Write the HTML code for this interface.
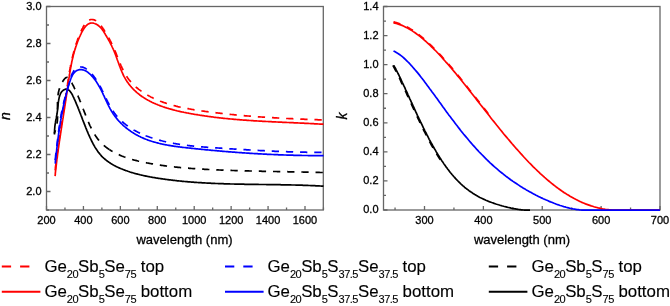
<!DOCTYPE html>
<html><head><meta charset="utf-8"><style>
html,body{margin:0;padding:0;background:#fff;width:670px;height:306px;overflow:hidden}
svg{position:absolute;left:0;top:0;will-change:transform}
text{font-family:"Liberation Sans",sans-serif;fill:#000;stroke:#000;stroke-width:0.3px}
.lg{stroke-width:0.12px}
.tk{font-size:11px}
.ti{font-size:13px}
.it{font-style:italic}
.lg{font-size:16px}
.sb{font-size:10.5px;letter-spacing:-0.5px}
</style></head><body>
<svg width="670" height="306" viewBox="0 0 670 306">
<rect x="46.5" y="6.5" width="276.8" height="203.5" fill="none" stroke="#666" stroke-width="1.3"/>
<rect x="383.5" y="6.5" width="276.5" height="203.5" fill="none" stroke="#666" stroke-width="1.3"/>
<path d="M46.50 210V206 M64.96 210V207.5 M83.43 210V206 M101.89 210V207.5 M120.36 210V206 M138.82 210V207.5 M157.29 210V206 M175.75 210V207.5 M194.21 210V206 M212.68 210V207.5 M231.14 210V206 M249.61 210V207.5 M268.07 210V206 M286.54 210V207.5 M305.00 210V206 M323.46 210V207.5 M46.5 210.00H49.0 M46.5 191.50H50.5 M46.5 173.00H49.0 M46.5 154.50H50.5 M46.5 136.00H49.0 M46.5 117.50H50.5 M46.5 99.00H49.0 M46.5 80.50H50.5 M46.5 62.00H49.0 M46.5 43.50H50.5 M46.5 25.00H49.0 M46.5 6.50H50.5 M395.06 210V207.5 M424.50 210V206 M453.94 210V207.5 M483.38 210V206 M512.81 210V207.5 M542.25 210V206 M571.69 210V207.5 M601.12 210V206 M630.56 210V207.5 M660.00 210V206 M383.5 210.00H387.5 M383.5 195.46H386.0 M383.5 180.93H387.5 M383.5 166.39H386.0 M383.5 151.86H387.5 M383.5 137.32H386.0 M383.5 122.79H387.5 M383.5 108.25H386.0 M383.5 93.71H387.5 M383.5 79.18H386.0 M383.5 64.64H387.5 M383.5 50.11H386.0 M383.5 35.57H387.5 M383.5 21.04H386.0 M383.5 6.50H387.5" stroke="#666" stroke-width="1.3" fill="none"/>
<path d="M54.2 133.5 L54.5 132.8 L54.8 132.1 L55.1 131.3 L55.3 130.6 L55.6 129.9 L55.8 129.2 L56.0 128.5 L56.2 127.8 L56.4 127.1 L56.5 126.3 L56.7 125.6 L56.8 124.9 L56.9 124.2 L57.0 123.5 L57.1 122.7 L57.2 122.0 L57.3 121.3 L57.4 120.6 L57.4 119.8 L57.5 119.1 L57.5 118.4 L57.5 117.7 L57.6 117.0 L57.6 116.2 L57.6 115.5 L57.6 114.8 L57.6 114.1 L57.6 113.3 L57.6 112.6 L57.6 111.9 L57.6 111.2 L57.6 110.4 L57.5 109.7 L57.5 109.0 L57.5 108.3 L57.5 107.5 L57.5 106.8 L57.5 106.1 L57.5 105.4 L57.5 104.6 L57.5 103.9 L57.5 103.2 L57.5 102.5 L57.5 101.7 L57.5 101.0 L57.6 100.3 L57.6 99.6 L57.7 98.8 L57.7 98.1 L57.8 97.4 L57.8 96.7 L57.9 95.9 L58.0 95.2 L58.1 94.5 L58.2 93.8 L58.4 93.0 L58.5 92.3 L58.7 91.6 L58.8 90.9 L59.0 90.1 L59.2 89.4 L59.5 88.7 L59.7 88.0 L59.9 87.2 L60.2 86.5 L60.5 85.8 L60.8 85.1 L61.1 84.4 L61.5 83.6 L61.9 82.9 L62.2 82.2 L62.7 81.5 L63.1 80.8 L63.5 80.2 L64.0 79.6 L64.4 79.0 L64.9 78.5 L65.4 78.1 L65.8 77.8 L66.3 77.5 L66.8 77.4 L67.2 77.3 L67.7 77.4 L68.1 77.6 L68.5 77.8 L68.9 78.2 L69.3 78.6 L69.7 79.1 L70.0 79.7 L70.4 80.3 L70.7 80.9 L71.1 81.5 L71.4 82.2 L71.8 82.8 L72.1 83.4 L72.4 84.1 L72.7 84.7 L73.1 85.3 L73.4 86.0 L73.7 86.6 L74.0 87.2 L74.3 87.9 L74.6 88.5 L74.9 89.2 L75.3 89.8 L75.6 90.5 L75.9 91.1 L76.1 91.8 L76.4 92.4 L76.7 93.1 L77.0 93.7 L77.3 94.4 L77.6 95.1 L77.9 95.7 L78.2 96.4 L78.4 97.0 L78.7 97.7 L79.0 98.4 L79.3 99.0 L79.6 99.7 L79.8 100.4 L80.1 101.1 L80.4 101.7 L80.6 102.4 L80.9 103.1 L81.2 103.8 L81.5 104.5 L81.7 105.1 L82.0 105.8 L82.3 106.5 L82.5 107.2 L82.8 107.9 L83.1 108.6 L83.3 109.3 L83.6 110.0 L83.9 110.7 L84.1 111.4 L84.4 112.1 L84.7 112.8 L85.0 113.5 L85.2 114.2 L85.5 114.9 L85.8 115.6 L86.0 116.3 L86.3 117.0 L86.6 117.7 L86.9 118.4 L87.2 119.1 L87.4 119.8 L87.7 120.4 L88.0 121.1 L88.3 121.8 L88.6 122.5 L88.9 123.2 L89.2 123.9 L89.5 124.6 L89.8 125.3 L90.1 125.9 L90.5 126.6 L90.8 127.3 L91.1 128.0 L91.4 128.6 L91.8 129.3 L92.1 129.9 L92.5 130.6 L92.8 131.2 L93.2 131.9 L93.5 132.5 L93.9 133.1 L94.3 133.8 L94.6 134.4 L95.0 135.0 L95.4 135.6 L95.8 136.2 L96.2 136.8 L96.6 137.4 L97.0 137.9 L97.4 138.5 L97.9 139.1 L98.3 139.6 L98.8 140.2 L99.2 140.7 L99.7 141.2 L100.1 141.8 L100.6 142.3 L101.1 142.8 L101.6 143.3 L102.1 143.8 L102.6 144.2 L103.1 144.7 L103.6 145.2 L104.1 145.6 L104.7 146.1 L105.2 146.5 L105.7 147.0 L106.3 147.4 L106.8 147.8 L107.4 148.2 L108.0 148.6 L108.5 149.0 L109.1 149.4 L109.7 149.8" stroke="#000" stroke-width="1.7" fill="none" stroke-linejoin="round" stroke-dasharray="7.3 6.9" stroke-dashoffset="3.84"/>
<path d="M109.7 149.8 L110.3 150.2 L110.9 150.6 L111.5 150.9 L112.1 151.3 L112.7 151.6 L113.3 152.0 L114.0 152.3 L114.6 152.7 L115.2 153.0 L115.8 153.3 L116.5 153.6 L117.1 153.9 L117.8 154.2 L118.4 154.5 L119.1 154.8 L119.7 155.1 L120.4 155.4 L121.1 155.7 L121.7 156.0 L122.4 156.2 L123.1 156.5 L123.8 156.8 L124.5 157.0 L125.2 157.3 L125.8 157.5 L126.5 157.7 L127.2 158.0 L127.9 158.2 L128.6 158.4 L129.3 158.6 L130.1 158.9 L130.8 159.1 L131.5 159.3 L132.2 159.5 L132.9 159.7 L133.6 159.9 L134.3 160.1 L135.1 160.3 L135.8 160.4 L136.5 160.6 L137.2 160.8 L137.9 161.0 L138.7 161.2 L139.4 161.3 L140.1 161.5 L140.9 161.7 L141.6 161.8 L142.3 162.0 L143.0 162.1 L143.8 162.3 L144.5 162.4 L145.2 162.6 L146.0 162.7 L146.7 162.9 L147.4 163.0 L148.2 163.1 L148.9 163.3 L149.6 163.4 L150.3 163.5 L151.1 163.7 L151.8 163.8 L152.5 163.9 L153.3 164.1 L154.0 164.2 L154.7 164.3 L155.4 164.4 L156.2 164.5 L156.9 164.7 L157.6 164.8 L158.3 164.9 L159.1 165.0 L159.8 165.1 L160.5 165.2 L161.2 165.3 L162.0 165.4 L162.7 165.5 L163.4 165.6 L164.1 165.7 L164.8 165.8 L165.6 165.9 L166.3 166.0 L167.0 166.1 L167.7 166.2 L168.5 166.3 L169.2 166.4 L169.9 166.4 L170.6 166.5 L171.3 166.6 L172.1 166.7 L172.8 166.8 L173.5 166.9 L174.2 166.9 L174.9 167.0 L175.7 167.1 L176.4 167.2 L177.1 167.2 L177.8 167.3 L178.5 167.4 L179.3 167.4 L180.0 167.5 L180.7 167.6 L181.4 167.6 L182.1 167.7 L182.8 167.8 L183.6 167.8 L184.3 167.9 L185.0 168.0 L185.7 168.0 L186.4 168.1 L187.2 168.1 L187.9 168.2 L188.6 168.2 L189.3 168.3 L190.0 168.4 L190.8 168.4 L191.5 168.5 L192.2 168.5 L192.9 168.6 L193.6 168.6 L194.3 168.7 L195.1 168.7 L195.8 168.8 L196.5 168.8 L197.2 168.8 L197.9 168.9 L198.7 168.9 L199.4 169.0 L200.1 169.0 L200.8 169.1 L201.5 169.1 L202.3 169.1 L203.0 169.2 L203.7 169.2 L204.4 169.3 L205.2 169.3 L205.9 169.3 L206.6 169.4 L207.3 169.4 L208.0 169.5 L208.8 169.5 L209.5 169.5 L210.2 169.6 L210.9 169.6 L211.7 169.6 L212.4 169.7 L213.1 169.7 L213.8 169.7 L214.6 169.8 L215.3 169.8 L216.0 169.8 L216.7 169.9 L217.5 169.9 L218.2 169.9 L218.9 170.0 L219.6 170.0 L220.4 170.0 L221.1 170.1 L221.8 170.1 L222.5 170.1 L223.3 170.1 L224.0 170.2 L224.7 170.2 L225.4 170.2 L226.2 170.3 L226.9 170.3 L227.6 170.3 L228.4 170.3 L229.1 170.4 L229.8 170.4 L230.5 170.4 L231.3 170.4 L232.0 170.5 L232.7 170.5 L233.5 170.5 L234.2 170.5 L234.9 170.6 L235.6 170.6 L236.4 170.6 L237.1 170.6 L237.8 170.6 L238.6 170.7 L239.3 170.7 L240.0 170.7 L240.7 170.7 L241.5 170.8 L242.2 170.8 L242.9 170.8 L243.7 170.8 L244.4 170.8 L245.1 170.9 L245.9 170.9 L246.6 170.9 L247.3 170.9 L248.0 170.9 L248.8 170.9 L249.5 171.0 L250.2 171.0 L251.0 171.0 L251.7 171.0 L252.4 171.0 L253.2 171.1 L253.9 171.1 L254.6 171.1 L255.3 171.1 L256.1 171.1 L256.8 171.1 L257.5 171.2 L258.3 171.2 L259.0 171.2 L259.7 171.2 L260.5 171.2 L261.2 171.2 L261.9 171.3 L262.6 171.3 L263.4 171.3 L264.1 171.3 L264.8 171.3 L265.6 171.3 L266.3 171.3 L267.0 171.4 L267.8 171.4 L268.5 171.4 L269.2 171.4 L270.0 171.4 L270.7 171.4 L271.4 171.4 L272.1 171.5 L272.9 171.5 L273.6 171.5 L274.3 171.5 L275.1 171.5 L275.8 171.5 L276.5 171.5 L277.3 171.6 L278.0 171.6 L278.7 171.6 L279.4 171.6 L280.2 171.6 L280.9 171.6 L281.6 171.6 L282.4 171.7 L283.1 171.7 L283.8 171.7 L284.5 171.7 L285.3 171.7 L286.0 171.7 L286.7 171.7 L287.5 171.7 L288.2 171.8 L288.9 171.8 L289.6 171.8 L290.4 171.8 L291.1 171.8 L291.8 171.8 L292.6 171.8 L293.3 171.9 L294.0 171.9 L294.7 171.9 L295.5 171.9 L296.2 171.9 L296.9 171.9 L297.6 171.9 L298.4 172.0 L299.1 172.0 L299.8 172.0 L300.5 172.0 L301.3 172.0 L302.0 172.0 L302.7 172.0 L303.4 172.1 L304.2 172.1 L304.9 172.1 L305.6 172.1 L306.3 172.1 L307.1 172.1 L307.8 172.2 L308.5 172.2 L309.2 172.2 L310.0 172.2 L310.7 172.2 L311.4 172.2 L312.1 172.3 L312.9 172.3 L313.6 172.3 L314.3 172.3 L315.0 172.3 L315.7 172.3 L316.5 172.4 L317.2 172.4 L317.9 172.4 L318.6 172.4 L319.3 172.4 L320.1 172.5 L320.8 172.5 L321.5 172.5 L322.2 172.5 L322.9 172.5" stroke="#000" stroke-width="1.7" fill="none" stroke-linejoin="round" stroke-dasharray="7.3 6.9" stroke-dashoffset="3.93"/>
<path d="M54.5 134.6 L54.5 133.7 L54.5 132.9 L54.5 132.0 L54.5 131.2 L54.6 130.4 L54.6 129.7 L54.7 128.9 L54.7 128.2 L54.8 127.5 L54.8 126.8 L54.9 126.1 L55.0 125.4 L55.1 124.7 L55.2 124.1 L55.3 123.4 L55.4 122.8 L55.5 122.2 L55.6 121.5 L55.7 120.9 L55.8 120.3 L55.9 119.7 L56.1 119.0 L56.2 118.4 L56.3 117.8 L56.4 117.2 L56.5 116.5 L56.6 115.9 L56.8 115.3 L56.9 114.6 L57.0 114.0 L57.1 113.3 L57.2 112.6 L57.3 111.9 L57.4 111.2 L57.5 110.5 L57.6 109.7 L57.6 109.0 L57.7 108.2 L57.8 107.4 L57.9 106.6 L58.0 105.8 L58.1 105.0 L58.1 104.2 L58.2 103.4 L58.3 102.6 L58.4 101.8 L58.5 101.0 L58.7 100.2 L58.8 99.4 L59.0 98.6 L59.1 97.9 L59.3 97.1 L59.5 96.4 L59.7 95.7 L60.0 95.0 L60.2 94.4 L60.5 93.7 L60.8 93.1 L61.1 92.6 L61.5 92.0 L61.9 91.5 L62.3 91.1 L62.8 90.7 L63.2 90.3 L63.7 90.0 L64.2 89.7 L64.7 89.5 L65.2 89.3 L65.7 89.2 L66.2 89.2 L66.7 89.2 L67.2 89.3 L67.7 89.4 L68.1 89.7 L68.6 90.0 L69.0 90.3 L69.5 90.7 L69.9 91.2 L70.3 91.6 L70.7 92.2 L71.1 92.8 L71.5 93.4 L71.9 94.0 L72.3 94.7 L72.6 95.4 L73.0 96.1 L73.3 96.8 L73.7 97.5 L74.0 98.3 L74.3 99.0 L74.7 99.8 L75.0 100.5 L75.3 101.2 L75.6 101.9 L75.9 102.7 L76.2 103.4 L76.5 104.1 L76.8 104.8 L77.1 105.5 L77.4 106.2 L77.7 106.9 L78.0 107.6 L78.2 108.3 L78.5 108.9 L78.8 109.6 L79.0 110.3 L79.3 111.0 L79.6 111.6 L79.8 112.3 L80.1 113.0 L80.4 113.6 L80.6 114.3 L80.9 115.0 L81.1 115.6 L81.4 116.3 L81.6 116.9 L81.9 117.6 L82.1 118.2 L82.3 118.9 L82.6 119.5 L82.8 120.1 L83.1 120.8 L83.3 121.4 L83.6 122.1 L83.8 122.7 L84.1 123.3 L84.3 124.0 L84.6 124.6 L84.8 125.2 L85.1 125.9 L85.3 126.5 L85.6 127.1 L85.8 127.8 L86.1 128.4 L86.3 129.0 L86.6 129.6 L86.8 130.3 L87.1 130.9 L87.4 131.5 L87.6 132.2 L87.9 132.8 L88.2 133.4 L88.4 134.1 L88.7 134.7 L89.0 135.3 L89.3 136.0 L89.6 136.6 L89.9 137.3 L90.2 137.9 L90.5 138.5 L90.8 139.2 L91.1 139.8 L91.4 140.5 L91.7 141.1 L92.0 141.8 L92.4 142.4 L92.7 143.0 L93.0 143.7 L93.4 144.3 L93.7 145.0 L94.1 145.6 L94.5 146.2 L94.8 146.8 L95.2 147.5 L95.6 148.1 L96.0 148.7 L96.4 149.3 L96.8 149.9 L97.2 150.5 L97.6 151.1 L98.0 151.7 L98.4 152.3 L98.9 152.8 L99.3 153.4 L99.8 153.9 L100.2 154.5 L100.7 155.0 L101.2 155.6 L101.6 156.1 L102.1 156.6 L102.6 157.1 L103.2 157.6 L103.7 158.1 L104.2 158.5 L104.7 159.0 L105.3 159.5 L105.8 159.9 L106.4 160.4 L106.9 160.8 L107.5 161.2 L108.1 161.6 L108.6 162.0 L109.2 162.4 L109.8 162.8 L110.4 163.2 L111.0 163.6 L111.6 164.0 L112.2 164.3 L112.9 164.7 L113.5 165.0 L114.1 165.4 L114.7 165.7 L115.4 166.1 L116.0 166.4 L116.6 166.7 L117.3 167.0 L117.9 167.3 L118.6 167.6 L119.2 167.9 L119.9 168.2 L120.6 168.5 L121.2 168.8 L121.9 169.0 L122.6 169.3 L123.2 169.6 L123.9 169.8 L124.6 170.1 L125.2 170.3 L125.9 170.6 L126.6 170.8 L127.3 171.0 L127.9 171.3 L128.6 171.5 L129.3 171.7 L130.0 172.0 L130.7 172.2 L131.3 172.4 L132.0 172.6 L132.7 172.8 L133.4 173.0 L134.1 173.2 L134.7 173.4 L135.4 173.6 L136.1 173.8 L136.8 173.9 L137.5 174.1 L138.2 174.3 L138.9 174.5 L139.6 174.6 L140.2 174.8 L140.9 175.0 L141.6 175.1 L142.3 175.3 L143.0 175.5 L143.7 175.6 L144.4 175.8 L145.1 175.9 L145.8 176.1 L146.5 176.2 L147.2 176.3 L147.9 176.5 L148.6 176.6 L149.3 176.7 L150.0 176.9 L150.6 177.0 L151.3 177.1 L152.0 177.3 L152.7 177.4 L153.4 177.5 L154.1 177.6 L154.8 177.7 L155.5 177.8 L156.2 178.0 L156.9 178.1 L157.6 178.2 L158.3 178.3 L159.0 178.4 L159.7 178.5 L160.4 178.6 L161.1 178.7 L161.8 178.8 L162.5 178.9 L163.2 179.0 L163.9 179.1 L164.6 179.2 L165.3 179.3 L166.0 179.4 L166.7 179.5 L167.5 179.6 L168.2 179.7 L168.9 179.8 L169.6 179.9 L170.3 179.9 L171.0 180.0 L171.7 180.1 L172.4 180.2 L173.1 180.3 L173.8 180.4 L174.5 180.4 L175.2 180.5 L175.9 180.6 L176.6 180.7 L177.3 180.8 L178.0 180.8 L178.7 180.9 L179.4 181.0 L180.1 181.0 L180.8 181.1 L181.5 181.2 L182.2 181.3 L182.9 181.3 L183.6 181.4 L184.4 181.5 L185.1 181.5 L185.8 181.6 L186.5 181.6 L187.2 181.7 L187.9 181.8 L188.6 181.8 L189.3 181.9 L190.0 181.9 L190.7 182.0 L191.4 182.1 L192.1 182.1 L192.8 182.2 L193.5 182.2 L194.2 182.3 L195.0 182.3 L195.7 182.4 L196.4 182.4 L197.1 182.5 L197.8 182.5 L198.5 182.6 L199.2 182.6 L199.9 182.7 L200.6 182.7 L201.3 182.7 L202.0 182.8 L202.7 182.8 L203.5 182.9 L204.2 182.9 L204.9 182.9 L205.6 183.0 L206.3 183.0 L207.0 183.1 L207.7 183.1 L208.4 183.1 L209.1 183.2 L209.8 183.2 L210.5 183.2 L211.3 183.3 L212.0 183.3 L212.7 183.3 L213.4 183.4 L214.1 183.4 L214.8 183.4 L215.5 183.5 L216.2 183.5 L216.9 183.5 L217.6 183.5 L218.4 183.6 L219.1 183.6 L219.8 183.6 L220.5 183.7 L221.2 183.7 L221.9 183.7 L222.6 183.7 L223.3 183.7 L224.0 183.8 L224.8 183.8 L225.5 183.8 L226.2 183.8 L226.9 183.9 L227.6 183.9 L228.3 183.9 L229.0 183.9 L229.7 183.9 L230.4 184.0 L231.2 184.0 L231.9 184.0 L232.6 184.0 L233.3 184.0 L234.0 184.0 L234.7 184.1 L235.4 184.1 L236.1 184.1 L236.8 184.1 L237.6 184.1 L238.3 184.1 L239.0 184.1 L239.7 184.2 L240.4 184.2 L241.1 184.2 L241.8 184.2 L242.5 184.2 L243.3 184.2 L244.0 184.2 L244.7 184.3 L245.4 184.3 L246.1 184.3 L246.8 184.3 L247.5 184.3 L248.2 184.3 L248.9 184.3 L249.7 184.3 L250.4 184.3 L251.1 184.4 L251.8 184.4 L252.5 184.4 L253.2 184.4 L253.9 184.4 L254.6 184.4 L255.4 184.4 L256.1 184.4 L256.8 184.4 L257.5 184.4 L258.2 184.4 L258.9 184.5 L259.6 184.5 L260.3 184.5 L261.1 184.5 L261.8 184.5 L262.5 184.5 L263.2 184.5 L263.9 184.5 L264.6 184.5 L265.3 184.5 L266.0 184.5 L266.7 184.6 L267.5 184.6 L268.2 184.6 L268.9 184.6 L269.6 184.6 L270.3 184.6 L271.0 184.6 L271.7 184.6 L272.4 184.6 L273.2 184.6 L273.9 184.6 L274.6 184.7 L275.3 184.7 L276.0 184.7 L276.7 184.7 L277.4 184.7 L278.1 184.7 L278.8 184.7 L279.6 184.7 L280.3 184.7 L281.0 184.8 L281.7 184.8 L282.4 184.8 L283.1 184.8 L283.8 184.8 L284.5 184.8 L285.2 184.8 L286.0 184.8 L286.7 184.9 L287.4 184.9 L288.1 184.9 L288.8 184.9 L289.5 184.9 L290.2 184.9 L290.9 184.9 L291.6 185.0 L292.3 185.0 L293.1 185.0 L293.8 185.0 L294.5 185.0 L295.2 185.0 L295.9 185.1 L296.6 185.1 L297.3 185.1 L298.0 185.1 L298.7 185.1 L299.4 185.2 L300.1 185.2 L300.9 185.2 L301.6 185.2 L302.3 185.2 L303.0 185.3 L303.7 185.3 L304.4 185.3 L305.1 185.3 L305.8 185.4 L306.5 185.4 L307.2 185.4 L307.9 185.4 L308.6 185.5 L309.4 185.5 L310.1 185.5 L310.8 185.6 L311.5 185.6 L312.2 185.6 L312.9 185.6 L313.6 185.7 L314.3 185.7 L315.0 185.7 L315.7 185.8 L316.4 185.8 L317.1 185.8 L317.8 185.9 L318.5 185.9 L319.2 185.9 L320.0 186.0 L320.7 186.0 L321.4 186.1 L322.1 186.1 L322.8 186.1 L323.5 186.2" stroke="#000" stroke-width="1.7" fill="none" stroke-linejoin="round"/>
<path d="M54.7 174.5 L54.8 173.6 L54.9 172.7 L55.0 171.9 L55.1 171.0 L55.2 170.1 L55.3 169.3 L55.4 168.4 L55.4 167.6 L55.5 166.7 L55.7 165.8 L55.8 164.9 L55.9 164.1 L56.0 163.2 L56.1 162.3 L56.2 161.5 L56.3 160.6 L56.4 159.7 L56.5 158.9 L56.6 158.0 L56.7 157.1 L56.8 156.2 L56.9 155.4 L57.1 154.5 L57.2 153.6 L57.3 152.8 L57.4 151.9 L57.5 151.0 L57.6 150.1 L57.8 149.3 L57.9 148.4 L58.0 147.5 L58.1 146.6 L58.2 145.8 L58.4 144.9 L58.5 144.0 L58.6 143.1 L58.7 142.3 L58.9 141.4 L59.0 140.5 L59.1 139.6 L59.2 138.8 L59.4 137.9 L59.5 137.0 L59.6 136.1 L59.8 135.2 L59.9 134.4 L60.0 133.5 L60.2 132.6 L60.3 131.7 L60.4 130.9 L60.5 130.0 L60.7 129.1 L60.8 128.2 L60.9 127.4 L61.1 126.5 L61.2 125.6 L61.3 124.7 L61.5 123.8 L61.6 123.0 L61.7 122.1 L61.9 121.2 L62.0 120.3 L62.2 119.5 L62.3 118.6 L62.4 117.7 L62.6 116.8 L62.7 116.0 L62.8 115.1 L63.0 114.2 L63.1 113.3 L63.2 112.5 L63.4 111.6 L63.5 110.7 L63.6 109.8 L63.8 109.0 L63.9 108.1 L64.0 107.2 L64.2 106.3 L64.3 105.5 L64.5 104.6 L64.6 103.7 L64.7 102.9 L64.9 102.0 L65.0 101.1 L65.1 100.2 L65.3 99.4 L65.4 98.5 L65.5 97.6 L65.7 96.8 L65.8 95.9 L65.9 95.0 L66.0 94.2 L66.2 93.3 L66.3 92.4 L66.4 91.6 L66.6 90.7 L66.7 89.8 L66.8 89.0 L66.9 88.1 L67.1 87.3 L67.2 86.4 L67.3 85.5 L67.5 84.7 L67.6 83.8 L67.7 83.0 L67.8 82.1 L68.0 81.2 L68.1 80.4 L68.2 79.5 L68.4 78.7 L68.5 77.8 L68.6 77.0 L68.8 76.1 L68.9 75.2 L69.0 74.4 L69.2 73.5 L69.3 72.7 L69.5 71.8 L69.6 71.0 L69.8 70.1 L69.9 69.3 L70.1 68.4 L70.2 67.5 L70.4 66.7 L70.6 65.8 L70.7 65.0 L70.9 64.1 L71.1 63.3 L71.2 62.4 L71.4 61.6 L71.6 60.7 L71.8 59.9 L72.0 59.0 L72.2 58.2 L72.4 57.3 L72.6 56.4 L72.8 55.6 L73.0 54.7 L73.2 53.9 L73.4 53.0 L73.7 52.2 L73.9 51.3 L74.1 50.5 L74.4 49.6 L74.6 48.8 L74.9 47.9 L75.1 47.0 L75.4 46.2 L75.7 45.3 L75.9 44.5 L76.2 43.6 L76.5 42.8 L76.8 41.9 L77.1 41.0 L77.4 40.2 L77.7 39.3 L78.1 38.5 L78.4 37.6 L78.7 36.7 L79.1 35.9 L79.4 35.0 L79.8 34.2 L80.2 33.3 L80.5 32.4 L80.9 31.6 L81.3 30.7 L81.7 29.8 L82.1 29.0 L82.6 28.1 L83.0 27.3 L83.4 26.5 L83.9 25.7 L84.4 24.9 L84.8 24.2 L85.3 23.5 L85.9 22.9 L86.4 22.2 L86.9 21.7 L87.5 21.2 L88.1 20.7 L88.7 20.3 L89.4 20.0 L90.0 19.8 L90.7 19.6 L91.4 19.5 L92.1 19.5 L92.8 19.6 L93.5 19.7 L94.2 19.9 L94.9 20.2 L95.6 20.5 L96.3 21.0 L96.9 21.4 L97.6 22.0 L98.3 22.6 L98.9 23.2 L99.5 23.9 L100.1 24.6 L100.7 25.3 L101.3 26.1 L101.9 26.9 L102.5 27.7 L103.0 28.5 L103.6 29.3 L104.1 30.1 L104.6 30.9 L105.2 31.7 L105.7 32.6 L106.1 33.4 L106.6 34.1 L107.1 34.9 L107.5 35.7 L108.0 36.5 L108.4 37.3 L108.9 38.1 L109.3 38.8 L109.7 39.6 L110.1 40.4 L110.5 41.1 L110.9 41.9 L111.2 42.7 L111.6 43.4 L112.0 44.2 L112.3 45.0 L112.7 45.7 L113.1 46.5 L113.4 47.3 L113.7 48.0 L114.1 48.8 L114.4 49.6 L114.8 50.4 L115.1 51.1 L115.4 51.9 L115.7 52.7 L116.1 53.5 L116.4 54.3 L116.7 55.1 L117.0 55.9 L117.4 56.7 L117.7 57.6 L118.0 58.4 L118.4 59.2 L118.7 60.0 L119.0 60.8 L119.4 61.7 L119.7 62.5 L120.0 63.3 L120.4 64.1 L120.7 64.9 L121.1 65.8 L121.5 66.6 L121.8 67.4 L122.2 68.2 L122.6 69.0 L123.0 69.8 L123.4 70.6 L123.8 71.4 L124.2 72.2 L124.6 72.9 L125.1 73.7 L125.5 74.5 L126.0 75.2 L126.4 76.0 L126.9 76.7 L127.4 77.4 L127.9 78.2 L128.4 78.9 L128.9 79.6 L129.5 80.3 L130.0 80.9 L130.6 81.6 L131.2 82.3 L131.7 82.9 L132.3 83.5 L132.9 84.2 L133.6 84.8 L134.2 85.4 L134.8 86.0 L135.5 86.6 L136.1 87.2 L136.8 87.7 L137.4 88.3 L138.1 88.8 L138.8 89.4 L139.5 89.9 L140.2 90.4 L140.9 90.9 L141.6 91.4 L142.4 91.9 L143.1 92.4 L143.8 92.9 L144.6 93.4 L145.3 93.8 L146.1 94.3 L146.8 94.7 L147.6 95.2 L148.4 95.6 L149.1 96.0 L149.9 96.4" stroke="#ff0000" stroke-width="1.7" fill="none" stroke-linejoin="round" stroke-dasharray="7.3 6.9" stroke-dashoffset="10.14"/>
<path d="M149.9 96.4 L150.7 96.9 L151.5 97.3 L152.3 97.6 L153.0 98.0 L153.8 98.4 L154.6 98.8 L155.4 99.1 L156.2 99.5 L157.0 99.8 L157.8 100.2 L158.6 100.5 L159.4 100.8 L160.3 101.2 L161.1 101.5 L161.9 101.8 L162.7 102.1 L163.5 102.4 L164.4 102.7 L165.2 102.9 L166.0 103.2 L166.8 103.5 L167.7 103.8 L168.5 104.0 L169.4 104.3 L170.2 104.5 L171.0 104.8 L171.9 105.0 L172.7 105.2 L173.6 105.5 L174.4 105.7 L175.3 105.9 L176.1 106.1 L177.0 106.3 L177.8 106.6 L178.7 106.8 L179.5 107.0 L180.4 107.2 L181.3 107.3 L182.1 107.5 L183.0 107.7 L183.9 107.9 L184.7 108.1 L185.6 108.2 L186.5 108.4 L187.3 108.6 L188.2 108.7 L189.1 108.9 L189.9 109.0 L190.8 109.2 L191.7 109.3 L192.6 109.5 L193.4 109.6 L194.3 109.8 L195.2 109.9 L196.1 110.1 L196.9 110.2 L197.8 110.3 L198.7 110.5 L199.6 110.6 L200.4 110.7 L201.3 110.8 L202.2 111.0 L203.1 111.1 L204.0 111.2 L204.8 111.3 L205.7 111.5 L206.6 111.6 L207.5 111.7 L208.3 111.8 L209.2 111.9 L210.1 112.0 L211.0 112.2 L211.8 112.3 L212.7 112.4 L213.6 112.5 L214.5 112.6 L215.4 112.7 L216.2 112.8 L217.1 112.9 L218.0 113.0 L218.9 113.1 L219.7 113.2 L220.6 113.3 L221.5 113.4 L222.4 113.5 L223.2 113.6 L224.1 113.7 L225.0 113.8 L225.9 113.9 L226.7 114.0 L227.6 114.1 L228.5 114.2 L229.4 114.3 L230.2 114.4 L231.1 114.5 L232.0 114.5 L232.9 114.6 L233.7 114.7 L234.6 114.8 L235.5 114.9 L236.4 115.0 L237.2 115.1 L238.1 115.1 L239.0 115.2 L239.9 115.3 L240.7 115.4 L241.6 115.5 L242.5 115.5 L243.4 115.6 L244.2 115.7 L245.1 115.8 L246.0 115.8 L246.9 115.9 L247.7 116.0 L248.6 116.0 L249.5 116.1 L250.4 116.2 L251.2 116.3 L252.1 116.3 L253.0 116.4 L253.9 116.5 L254.7 116.5 L255.6 116.6 L256.5 116.7 L257.4 116.7 L258.2 116.8 L259.1 116.8 L260.0 116.9 L260.9 117.0 L261.8 117.0 L262.6 117.1 L263.5 117.1 L264.4 117.2 L265.3 117.3 L266.1 117.3 L267.0 117.4 L267.9 117.4 L268.8 117.5 L269.6 117.5 L270.5 117.6 L271.4 117.6 L272.3 117.7 L273.1 117.7 L274.0 117.8 L274.9 117.8 L275.8 117.9 L276.7 117.9 L277.5 118.0 L278.4 118.0 L279.3 118.1 L280.2 118.1 L281.0 118.2 L281.9 118.2 L282.8 118.3 L283.7 118.3 L284.6 118.4 L285.4 118.4 L286.3 118.5 L287.2 118.5 L288.1 118.5 L288.9 118.6 L289.8 118.6 L290.7 118.7 L291.6 118.7 L292.5 118.7 L293.3 118.8 L294.2 118.8 L295.1 118.9 L296.0 118.9 L296.9 118.9 L297.7 119.0 L298.6 119.0 L299.5 119.0 L300.4 119.1 L301.3 119.1 L302.1 119.2 L303.0 119.2 L303.9 119.2 L304.8 119.3 L305.7 119.3 L306.5 119.3 L307.4 119.4 L308.3 119.4 L309.2 119.4 L310.1 119.5 L311.0 119.5 L311.8 119.5 L312.7 119.6 L313.6 119.6 L314.5 119.6 L315.4 119.7 L316.3 119.7 L317.1 119.7 L318.0 119.8 L318.9 119.8 L319.8 119.8 L320.7 119.8 L321.6 119.9 L322.5 119.9 L323.3 119.9" stroke="#ff0000" stroke-width="1.7" fill="none" stroke-linejoin="round" stroke-dasharray="7.3 6.9" stroke-dashoffset="2.98"/>
<path d="M55.1 176.1 L55.2 175.2 L55.3 174.4 L55.3 173.5 L55.4 172.6 L55.5 171.7 L55.6 170.9 L55.7 170.0 L55.8 169.1 L55.9 168.3 L56.0 167.4 L56.1 166.5 L56.2 165.6 L56.3 164.8 L56.4 163.9 L56.5 163.0 L56.6 162.2 L56.7 161.3 L56.8 160.4 L56.9 159.5 L57.0 158.7 L57.2 157.8 L57.3 156.9 L57.4 156.1 L57.5 155.2 L57.6 154.3 L57.7 153.4 L57.8 152.6 L58.0 151.7 L58.1 150.8 L58.2 150.0 L58.3 149.1 L58.4 148.2 L58.6 147.3 L58.7 146.5 L58.8 145.6 L58.9 144.7 L59.1 143.8 L59.2 143.0 L59.3 142.1 L59.4 141.2 L59.6 140.4 L59.7 139.5 L59.8 138.6 L60.0 137.7 L60.1 136.9 L60.2 136.0 L60.4 135.1 L60.5 134.2 L60.6 133.4 L60.8 132.5 L60.9 131.6 L61.0 130.8 L61.2 129.9 L61.3 129.0 L61.4 128.1 L61.6 127.3 L61.7 126.4 L61.8 125.5 L62.0 124.6 L62.1 123.8 L62.2 122.9 L62.4 122.0 L62.5 121.2 L62.6 120.3 L62.8 119.4 L62.9 118.5 L63.1 117.7 L63.2 116.8 L63.3 115.9 L63.5 115.1 L63.6 114.2 L63.7 113.3 L63.9 112.4 L64.0 111.6 L64.1 110.7 L64.3 109.8 L64.4 109.0 L64.6 108.1 L64.7 107.2 L64.8 106.4 L65.0 105.5 L65.1 104.6 L65.2 103.7 L65.4 102.9 L65.5 102.0 L65.6 101.1 L65.8 100.3 L65.9 99.4 L66.0 98.5 L66.1 97.7 L66.3 96.8 L66.4 95.9 L66.5 95.1 L66.7 94.2 L66.8 93.3 L66.9 92.5 L67.0 91.6 L67.2 90.7 L67.3 89.9 L67.4 89.0 L67.5 88.1 L67.7 87.3 L67.8 86.4 L67.9 85.5 L68.0 84.7 L68.2 83.8 L68.3 82.9 L68.4 82.1 L68.5 81.2 L68.7 80.4 L68.8 79.5 L68.9 78.6 L69.0 77.8 L69.2 76.9 L69.3 76.0 L69.4 75.2 L69.6 74.3 L69.7 73.5 L69.8 72.6 L70.0 71.7 L70.1 70.9 L70.3 70.0 L70.4 69.2 L70.6 68.3 L70.7 67.4 L70.9 66.6 L71.1 65.7 L71.2 64.9 L71.4 64.0 L71.6 63.1 L71.7 62.3 L71.9 61.4 L72.1 60.6 L72.3 59.7 L72.5 58.8 L72.7 58.0 L72.9 57.1 L73.1 56.3 L73.3 55.4 L73.5 54.6 L73.8 53.7 L74.0 52.8 L74.2 52.0 L74.5 51.1 L74.7 50.3 L75.0 49.4 L75.3 48.6 L75.5 47.7 L75.8 46.9 L76.1 46.0 L76.4 45.2 L76.7 44.3 L77.0 43.4 L77.3 42.6 L77.6 41.7 L77.9 40.9 L78.3 40.0 L78.6 39.2 L79.0 38.3 L79.3 37.5 L79.7 36.6 L80.1 35.8 L80.5 34.9 L80.9 34.1 L81.3 33.2 L81.7 32.4 L82.1 31.6 L82.6 30.8 L83.0 30.0 L83.5 29.2 L84.0 28.5 L84.5 27.8 L85.0 27.1 L85.5 26.5 L86.0 25.9 L86.6 25.4 L87.1 24.9 L87.7 24.4 L88.3 24.0 L88.9 23.7 L89.6 23.4 L90.2 23.2 L90.9 23.1 L91.6 23.0 L92.3 23.0 L93.1 23.1 L93.8 23.3 L94.6 23.5 L95.3 23.8 L96.1 24.1 L96.8 24.5 L97.6 25.0 L98.3 25.5 L99.0 26.1 L99.7 26.7 L100.3 27.3 L101.0 28.0 L101.6 28.8 L102.2 29.5 L102.7 30.3 L103.3 31.1 L103.8 31.9 L104.3 32.7 L104.9 33.5 L105.3 34.4 L105.8 35.2 L106.3 36.0 L106.8 36.8 L107.2 37.6 L107.7 38.4 L108.1 39.1 L108.5 39.9 L108.9 40.6 L109.4 41.4 L109.8 42.1 L110.2 42.9 L110.5 43.6 L110.9 44.4 L111.3 45.1 L111.7 45.8 L112.0 46.6 L112.4 47.3 L112.7 48.1 L113.1 48.8 L113.4 49.6 L113.8 50.4 L114.1 51.2 L114.4 51.9 L114.7 52.7 L115.1 53.6 L115.4 54.4 L115.7 55.2 L116.0 56.0 L116.3 56.9 L116.6 57.7 L116.9 58.6 L117.2 59.5 L117.5 60.3 L117.9 61.2 L118.2 62.1 L118.5 62.9 L118.8 63.8 L119.1 64.7 L119.4 65.6 L119.8 66.5 L120.1 67.3 L120.4 68.2 L120.8 69.1 L121.1 69.9 L121.5 70.8 L121.8 71.6 L122.2 72.5 L122.6 73.3 L122.9 74.2 L123.3 75.0 L123.7 75.8 L124.1 76.6 L124.6 77.4 L125.0 78.2 L125.4 78.9 L125.9 79.7 L126.4 80.4 L126.8 81.2 L127.3 81.9 L127.8 82.6 L128.3 83.3 L128.8 84.0 L129.3 84.7 L129.9 85.3 L130.4 86.0 L131.0 86.6 L131.5 87.3 L132.1 87.9 L132.7 88.5 L133.2 89.1 L133.8 89.7 L134.4 90.3 L135.1 90.9 L135.7 91.5 L136.3 92.0 L136.9 92.6 L137.6 93.1 L138.2 93.6 L138.9 94.2 L139.5 94.7 L140.2 95.2 L140.9 95.7 L141.6 96.2 L142.3 96.7 L143.0 97.1 L143.7 97.6 L144.4 98.1 L145.1 98.5 L145.8 98.9 L146.6 99.4 L147.3 99.8 L148.0 100.2 L148.8 100.6 L149.5 101.0 L150.3 101.4 L151.1 101.8 L151.8 102.2 L152.6 102.6 L153.4 102.9 L154.2 103.3 L155.0 103.6 L155.8 104.0 L156.6 104.3 L157.4 104.6 L158.2 105.0 L159.0 105.3 L159.8 105.6 L160.6 105.9 L161.5 106.2 L162.3 106.5 L163.1 106.8 L164.0 107.1 L164.8 107.4 L165.7 107.6 L166.5 107.9 L167.4 108.2 L168.2 108.4 L169.1 108.7 L169.9 108.9 L170.8 109.2 L171.7 109.4 L172.5 109.6 L173.4 109.9 L174.3 110.1 L175.1 110.3 L176.0 110.5 L176.9 110.8 L177.8 111.0 L178.6 111.2 L179.5 111.4 L180.4 111.6 L181.3 111.8 L182.2 112.0 L183.1 112.1 L183.9 112.3 L184.8 112.5 L185.7 112.7 L186.6 112.9 L187.5 113.0 L188.4 113.2 L189.3 113.4 L190.1 113.5 L191.0 113.7 L191.9 113.8 L192.8 114.0 L193.7 114.2 L194.6 114.3 L195.5 114.5 L196.3 114.6 L197.2 114.7 L198.1 114.9 L199.0 115.0 L199.9 115.2 L200.8 115.3 L201.6 115.4 L202.5 115.6 L203.4 115.7 L204.3 115.8 L205.2 116.0 L206.0 116.1 L206.9 116.2 L207.8 116.3 L208.7 116.5 L209.5 116.6 L210.4 116.7 L211.3 116.8 L212.2 116.9 L213.0 117.0 L213.9 117.2 L214.8 117.3 L215.7 117.4 L216.5 117.5 L217.4 117.6 L218.3 117.7 L219.2 117.8 L220.0 117.9 L220.9 118.0 L221.8 118.1 L222.6 118.2 L223.5 118.3 L224.4 118.4 L225.3 118.5 L226.1 118.5 L227.0 118.6 L227.9 118.7 L228.7 118.8 L229.6 118.9 L230.5 119.0 L231.3 119.0 L232.2 119.1 L233.1 119.2 L233.9 119.3 L234.8 119.4 L235.7 119.4 L236.6 119.5 L237.4 119.6 L238.3 119.7 L239.2 119.7 L240.0 119.8 L240.9 119.9 L241.8 119.9 L242.6 120.0 L243.5 120.1 L244.4 120.1 L245.2 120.2 L246.1 120.2 L247.0 120.3 L247.8 120.4 L248.7 120.4 L249.6 120.5 L250.4 120.5 L251.3 120.6 L252.2 120.7 L253.0 120.7 L253.9 120.8 L254.8 120.8 L255.6 120.9 L256.5 120.9 L257.4 121.0 L258.2 121.0 L259.1 121.1 L260.0 121.1 L260.8 121.2 L261.7 121.2 L262.6 121.3 L263.4 121.3 L264.3 121.4 L265.2 121.4 L266.1 121.5 L266.9 121.5 L267.8 121.5 L268.7 121.6 L269.5 121.6 L270.4 121.7 L271.3 121.7 L272.1 121.8 L273.0 121.8 L273.9 121.9 L274.8 121.9 L275.6 121.9 L276.5 122.0 L277.4 122.0 L278.3 122.1 L279.1 122.1 L280.0 122.1 L280.9 122.2 L281.7 122.2 L282.6 122.3 L283.5 122.3 L284.4 122.3 L285.3 122.4 L286.1 122.4 L287.0 122.5 L287.9 122.5 L288.8 122.5 L289.6 122.6 L290.5 122.6 L291.4 122.7 L292.3 122.7 L293.2 122.7 L294.0 122.8 L294.9 122.8 L295.8 122.9 L296.7 122.9 L297.6 122.9 L298.5 123.0 L299.3 123.0 L300.2 123.1 L301.1 123.1 L302.0 123.1 L302.9 123.2 L303.8 123.2 L304.7 123.3 L305.5 123.3 L306.4 123.4 L307.3 123.4 L308.2 123.4 L309.1 123.5 L310.0 123.5 L310.9 123.6 L311.8 123.6 L312.7 123.7 L313.6 123.7 L314.5 123.8 L315.4 123.8 L316.3 123.9 L317.2 123.9 L318.1 124.0 L319.0 124.0 L319.9 124.1 L320.8 124.1 L321.7 124.2 L322.6 124.2 L323.5 124.3" stroke="#ff0000" stroke-width="1.7" fill="none" stroke-linejoin="round"/>
<path d="M54.8 162.4 L54.9 161.7 L55.0 161.0 L55.1 160.2 L55.2 159.5 L55.3 158.8 L55.4 158.0 L55.5 157.3 L55.6 156.5 L55.6 155.8 L55.7 155.0 L55.8 154.3 L55.9 153.5 L56.0 152.8 L56.1 152.0 L56.2 151.3 L56.3 150.5 L56.4 149.7 L56.5 149.0 L56.6 148.2 L56.6 147.5 L56.7 146.7 L56.8 146.0 L56.9 145.2 L57.0 144.4 L57.1 143.7 L57.2 142.9 L57.3 142.2 L57.4 141.4 L57.5 140.6 L57.6 139.9 L57.6 139.1 L57.7 138.3 L57.8 137.6 L57.9 136.8 L58.0 136.0 L58.1 135.3 L58.2 134.5 L58.3 133.8 L58.4 133.0 L58.5 132.2 L58.6 131.5 L58.7 130.7 L58.8 129.9 L58.9 129.2 L59.0 128.4 L59.1 127.6 L59.2 126.9 L59.4 126.1 L59.5 125.4 L59.6 124.6 L59.7 123.8 L59.8 123.1 L59.9 122.3 L60.0 121.6 L60.2 120.8 L60.3 120.1 L60.4 119.3 L60.5 118.5 L60.6 117.8 L60.8 117.0 L60.9 116.3 L61.0 115.5 L61.2 114.8 L61.3 114.0 L61.4 113.3 L61.6 112.6 L61.7 111.8 L61.9 111.1 L62.0 110.3 L62.2 109.6 L62.3 108.8 L62.5 108.1 L62.6 107.4 L62.8 106.6 L63.0 105.9 L63.1 105.2 L63.3 104.5 L63.5 103.7 L63.6 103.0 L63.8 102.3 L64.0 101.6 L64.2 100.8 L64.3 100.1 L64.5 99.4 L64.7 98.7 L64.9 98.0 L65.1 97.3 L65.3 96.6 L65.5 95.8 L65.7 95.1 L65.9 94.4 L66.1 93.7 L66.3 93.0 L66.5 92.3 L66.7 91.5 L67.0 90.8 L67.2 90.1 L67.4 89.3 L67.6 88.6 L67.8 87.8 L68.0 87.0 L68.2 86.3 L68.4 85.5 L68.7 84.7 L68.9 83.9 L69.1 83.1 L69.3 82.3 L69.5 81.5 L69.8 80.6 L70.0 79.8 L70.2 79.0 L70.5 78.2 L70.7 77.4 L71.0 76.7 L71.3 75.9 L71.6 75.1 L71.9 74.4 L72.2 73.7 L72.5 73.0 L72.9 72.4 L73.3 71.7 L73.6 71.1 L74.1 70.5 L74.5 70.0 L75.0 69.5 L75.4 69.1 L75.9 68.6 L76.5 68.3 L77.0 67.9 L77.6 67.7 L78.2 67.4 L78.9 67.2 L79.5 67.1 L80.1 67.0 L80.8 67.0 L81.5 67.0 L82.1 67.1 L82.8 67.2 L83.4 67.4 L84.1 67.7 L84.7 68.0 L85.3 68.3 L85.9 68.7 L86.6 69.1 L87.2 69.5 L87.8 70.0 L88.3 70.5 L88.9 71.0 L89.5 71.5 L90.0 72.0 L90.6 72.6 L91.1 73.1 L91.6 73.7 L92.1 74.3 L92.6 74.9 L93.1 75.5 L93.6 76.1 L94.1 76.7 L94.5 77.3 L95.0 77.9 L95.4 78.5 L95.9 79.2 L96.3 79.8 L96.7 80.5 L97.2 81.1 L97.6 81.8 L98.0 82.4 L98.4 83.1 L98.8 83.8 L99.1 84.5 L99.5 85.2 L99.9 85.9 L100.3 86.5 L100.6 87.2 L101.0 87.9 L101.4 88.6 L101.7 89.3 L102.1 90.1 L102.4 90.8 L102.8 91.5 L103.1 92.2 L103.5 92.9 L103.8 93.6 L104.1 94.3 L104.5 95.0 L104.8 95.8 L105.2 96.5 L105.5 97.2 L105.9 97.9 L106.2 98.6 L106.5 99.3 L106.9 100.0 L107.2 100.7 L107.6 101.4 L107.9 102.1 L108.3 102.8 L108.7 103.5 L109.0 104.2 L109.4 104.9 L109.8 105.6 L110.1 106.2 L110.5 106.9 L110.9 107.6 L111.3 108.2 L111.7 108.9 L112.1 109.5 L112.5 110.2 L112.9 110.8 L113.3 111.5 L113.7 112.1 L114.2 112.7 L114.6 113.3 L115.1 113.9 L115.5 114.5 L116.0 115.1 L116.4 115.6 L116.9 116.2 L117.4 116.8 L117.9 117.3 L118.4 117.9 L118.9 118.4 L119.4 119.0 L119.9 119.5 L120.5 120.0 L121.0 120.5 L121.5 121.0 L122.1 121.5 L122.6 122.0 L123.2 122.5 L123.7 123.0 L124.3 123.5 L124.9 123.9 L125.5 124.4 L126.0 124.8 L126.6 125.3 L127.2 125.7 L127.8 126.2 L128.4 126.6 L129.1 127.0 L129.7 127.4 L130.3 127.8 L130.9 128.2 L131.5 128.6 L132.2 129.0 L132.8 129.4 L133.5 129.8 L134.1 130.2 L134.8 130.5 L135.4 130.9 L136.1 131.2 L136.8 131.6 L137.4 131.9 L138.1 132.3 L138.8 132.6 L139.4 132.9 L140.1 133.3" stroke="#0000ff" stroke-width="1.7" fill="none" stroke-linejoin="round" stroke-dasharray="7.3 6.9" stroke-dashoffset="12.00"/>
<path d="M140.1 133.3 L140.8 133.6 L141.5 133.9 L142.2 134.2 L142.9 134.5 L143.6 134.8 L144.3 135.1 L145.0 135.4 L145.7 135.7 L146.4 136.0 L147.1 136.2 L147.9 136.5 L148.6 136.8 L149.3 137.0 L150.0 137.3 L150.7 137.5 L151.5 137.8 L152.2 138.0 L152.9 138.3 L153.7 138.5 L154.4 138.7 L155.1 139.0 L155.9 139.2 L156.6 139.4 L157.3 139.6 L158.1 139.8 L158.8 140.0 L159.6 140.2 L160.3 140.4 L161.0 140.6 L161.8 140.8 L162.5 141.0 L163.3 141.2 L164.0 141.4 L164.8 141.5 L165.5 141.7 L166.3 141.9 L167.0 142.0 L167.8 142.2 L168.5 142.4 L169.3 142.5 L170.0 142.7 L170.8 142.8 L171.5 143.0 L172.3 143.1 L173.0 143.2 L173.8 143.4 L174.5 143.5 L175.3 143.6 L176.0 143.8 L176.8 143.9 L177.5 144.0 L178.3 144.1 L179.0 144.3 L179.8 144.4 L180.5 144.5 L181.3 144.6 L182.1 144.7 L182.8 144.8 L183.6 144.9 L184.3 145.0 L185.1 145.1 L185.8 145.2 L186.6 145.3 L187.3 145.4 L188.1 145.5 L188.9 145.6 L189.6 145.7 L190.4 145.8 L191.1 145.8 L191.9 145.9 L192.6 146.0 L193.4 146.1 L194.2 146.2 L194.9 146.2 L195.7 146.3 L196.4 146.4 L197.2 146.5 L198.0 146.5 L198.7 146.6 L199.5 146.7 L200.2 146.7 L201.0 146.8 L201.8 146.9 L202.5 146.9 L203.3 147.0 L204.0 147.0 L204.8 147.1 L205.6 147.1 L206.3 147.2 L207.1 147.3 L207.8 147.3 L208.6 147.4 L209.4 147.4 L210.1 147.5 L210.9 147.5 L211.6 147.6 L212.4 147.6 L213.2 147.7 L213.9 147.7 L214.7 147.8 L215.4 147.8 L216.2 147.9 L217.0 147.9 L217.7 148.0 L218.5 148.0 L219.3 148.1 L220.0 148.1 L220.8 148.2 L221.5 148.2 L222.3 148.3 L223.1 148.3 L223.8 148.4 L224.6 148.4 L225.3 148.5 L226.1 148.5 L226.9 148.6 L227.6 148.6 L228.4 148.7 L229.1 148.7 L229.9 148.8 L230.7 148.8 L231.4 148.9 L232.2 148.9 L232.9 149.0 L233.7 149.0 L234.5 149.1 L235.2 149.1 L236.0 149.1 L236.7 149.2 L237.5 149.2 L238.3 149.3 L239.0 149.3 L239.8 149.4 L240.5 149.4 L241.3 149.5 L242.1 149.5 L242.8 149.6 L243.6 149.6 L244.3 149.7 L245.1 149.7 L245.9 149.7 L246.6 149.8 L247.4 149.8 L248.1 149.9 L248.9 149.9 L249.7 150.0 L250.4 150.0 L251.2 150.1 L251.9 150.1 L252.7 150.1 L253.5 150.2 L254.2 150.2 L255.0 150.3 L255.7 150.3 L256.5 150.3 L257.3 150.4 L258.0 150.4 L258.8 150.5 L259.5 150.5 L260.3 150.6 L261.1 150.6 L261.8 150.6 L262.6 150.7 L263.3 150.7 L264.1 150.7 L264.9 150.8 L265.6 150.8 L266.4 150.9 L267.1 150.9 L267.9 150.9 L268.7 151.0 L269.4 151.0 L270.2 151.0 L270.9 151.1 L271.7 151.1 L272.5 151.1 L273.2 151.2 L274.0 151.2 L274.8 151.3 L275.5 151.3 L276.3 151.3 L277.0 151.3 L277.8 151.4 L278.6 151.4 L279.3 151.4 L280.1 151.5 L280.8 151.5 L281.6 151.5 L282.4 151.6 L283.1 151.6 L283.9 151.6 L284.6 151.6 L285.4 151.7 L286.2 151.7 L286.9 151.7 L287.7 151.8 L288.4 151.8 L289.2 151.8 L290.0 151.8 L290.7 151.9 L291.5 151.9 L292.3 151.9 L293.0 151.9 L293.8 152.0 L294.5 152.0 L295.3 152.0 L296.1 152.0 L296.8 152.0 L297.6 152.1 L298.3 152.1 L299.1 152.1 L299.9 152.1 L300.6 152.1 L301.4 152.1 L302.2 152.2 L302.9 152.2 L303.7 152.2 L304.4 152.2 L305.2 152.2 L306.0 152.2 L306.7 152.3 L307.5 152.3 L308.3 152.3 L309.0 152.3 L309.8 152.3 L310.5 152.3 L311.3 152.3 L312.1 152.3 L312.8 152.3 L313.6 152.3 L314.4 152.3 L315.1 152.4 L315.9 152.4 L316.6 152.4 L317.4 152.4 L318.2 152.4 L318.9 152.4 L319.7 152.4 L320.5 152.4 L321.2 152.4 L322.0 152.4 L322.8 152.4 L323.5 152.4" stroke="#0000ff" stroke-width="1.7" fill="none" stroke-linejoin="round" stroke-dasharray="7.3 6.9" stroke-dashoffset="8.22"/>
<path d="M55.2 163.7 L55.3 163.0 L55.4 162.2 L55.4 161.4 L55.5 160.7 L55.6 159.9 L55.7 159.2 L55.8 158.4 L55.8 157.6 L55.9 156.9 L56.0 156.1 L56.1 155.4 L56.2 154.6 L56.2 153.8 L56.3 153.1 L56.4 152.3 L56.5 151.6 L56.6 150.8 L56.7 150.1 L56.7 149.3 L56.8 148.5 L56.9 147.8 L57.0 147.0 L57.1 146.3 L57.2 145.5 L57.3 144.8 L57.4 144.0 L57.4 143.2 L57.5 142.5 L57.6 141.7 L57.7 141.0 L57.8 140.2 L57.9 139.5 L58.0 138.7 L58.1 138.0 L58.2 137.2 L58.3 136.5 L58.4 135.7 L58.5 134.9 L58.6 134.2 L58.7 133.4 L58.8 132.7 L58.9 131.9 L59.0 131.2 L59.2 130.4 L59.3 129.7 L59.4 128.9 L59.5 128.2 L59.6 127.4 L59.7 126.7 L59.8 125.9 L59.9 125.2 L60.1 124.4 L60.2 123.7 L60.3 122.9 L60.4 122.2 L60.5 121.4 L60.7 120.7 L60.8 119.9 L60.9 119.2 L61.1 118.5 L61.2 117.7 L61.3 117.0 L61.5 116.2 L61.6 115.5 L61.7 114.7 L61.9 114.0 L62.0 113.2 L62.1 112.5 L62.3 111.8 L62.4 111.0 L62.6 110.3 L62.7 109.5 L62.9 108.8 L63.0 108.1 L63.2 107.3 L63.3 106.6 L63.5 105.8 L63.7 105.1 L63.8 104.4 L64.0 103.6 L64.1 102.9 L64.3 102.1 L64.5 101.4 L64.6 100.7 L64.8 99.9 L65.0 99.2 L65.2 98.5 L65.3 97.7 L65.5 97.0 L65.7 96.3 L65.9 95.5 L66.1 94.8 L66.3 94.1 L66.4 93.3 L66.6 92.6 L66.8 91.8 L67.0 91.1 L67.2 90.3 L67.5 89.6 L67.7 88.8 L67.9 88.1 L68.1 87.3 L68.3 86.5 L68.5 85.8 L68.8 85.0 L69.0 84.2 L69.2 83.4 L69.5 82.6 L69.7 81.8 L70.0 81.1 L70.3 80.3 L70.5 79.5 L70.8 78.8 L71.1 78.0 L71.4 77.3 L71.8 76.6 L72.1 75.9 L72.4 75.2 L72.8 74.6 L73.2 74.0 L73.6 73.4 L74.0 72.9 L74.5 72.4 L74.9 71.9 L75.4 71.4 L75.9 71.1 L76.5 70.7 L77.0 70.4 L77.6 70.2 L78.2 70.0 L78.8 69.8 L79.4 69.7 L80.1 69.6 L80.7 69.6 L81.4 69.6 L82.1 69.7 L82.7 69.8 L83.4 70.0 L84.1 70.2 L84.7 70.5 L85.4 70.7 L86.0 71.1 L86.7 71.5 L87.3 71.9 L87.9 72.3 L88.5 72.8 L89.1 73.3 L89.7 73.8 L90.3 74.3 L90.8 74.9 L91.4 75.5 L91.9 76.1 L92.5 76.7 L93.0 77.3 L93.5 77.9 L94.0 78.5 L94.5 79.2 L95.0 79.8 L95.5 80.5 L95.9 81.1 L96.4 81.8 L96.8 82.4 L97.2 83.1 L97.6 83.8 L98.0 84.4 L98.4 85.1 L98.8 85.8 L99.2 86.5 L99.6 87.1 L100.0 87.8 L100.3 88.5 L100.7 89.2 L101.1 89.9 L101.4 90.6 L101.8 91.3 L102.1 92.0 L102.4 92.7 L102.8 93.4 L103.1 94.1 L103.4 94.8 L103.8 95.5 L104.1 96.2 L104.4 96.9 L104.7 97.6 L105.0 98.3 L105.4 99.0 L105.7 99.7 L106.0 100.4 L106.3 101.0 L106.6 101.7 L107.0 102.4 L107.3 103.1 L107.6 103.8 L108.0 104.5 L108.3 105.2 L108.6 105.8 L109.0 106.5 L109.3 107.2 L109.7 107.9 L110.0 108.5 L110.4 109.2 L110.8 109.8 L111.1 110.5 L111.5 111.1 L111.9 111.8 L112.3 112.4 L112.7 113.0 L113.1 113.7 L113.5 114.3 L114.0 114.9 L114.4 115.5 L114.8 116.1 L115.3 116.7 L115.7 117.3 L116.2 117.9 L116.7 118.5 L117.2 119.1 L117.6 119.6 L118.1 120.2 L118.6 120.8 L119.2 121.3 L119.7 121.9 L120.2 122.4 L120.7 123.0 L121.3 123.5 L121.8 124.0 L122.3 124.5 L122.9 125.1 L123.4 125.6 L124.0 126.1 L124.6 126.6 L125.2 127.0 L125.7 127.5 L126.3 128.0 L126.9 128.5 L127.5 128.9 L128.1 129.4 L128.7 129.8 L129.3 130.3 L130.0 130.7 L130.6 131.2 L131.2 131.6 L131.8 132.0 L132.5 132.4 L133.1 132.8 L133.7 133.2 L134.4 133.6 L135.0 134.0 L135.7 134.4 L136.3 134.8 L137.0 135.1 L137.7 135.5 L138.3 135.8 L139.0 136.2 L139.7 136.5 L140.4 136.8 L141.0 137.2 L141.7 137.5 L142.4 137.8 L143.1 138.1 L143.8 138.4 L144.5 138.7 L145.2 139.0 L145.9 139.3 L146.6 139.5 L147.3 139.8 L148.0 140.1 L148.7 140.3 L149.4 140.6 L150.1 140.8 L150.8 141.0 L151.5 141.3 L152.3 141.5 L153.0 141.7 L153.7 141.9 L154.4 142.1 L155.2 142.3 L155.9 142.5 L156.6 142.7 L157.4 142.9 L158.1 143.1 L158.8 143.3 L159.6 143.5 L160.3 143.7 L161.0 143.8 L161.8 144.0 L162.5 144.2 L163.3 144.3 L164.0 144.5 L164.8 144.6 L165.5 144.8 L166.3 144.9 L167.0 145.0 L167.8 145.2 L168.5 145.3 L169.3 145.4 L170.0 145.6 L170.8 145.7 L171.6 145.8 L172.3 145.9 L173.1 146.1 L173.8 146.2 L174.6 146.3 L175.4 146.4 L176.1 146.5 L176.9 146.6 L177.7 146.7 L178.4 146.8 L179.2 146.9 L179.9 147.0 L180.7 147.1 L181.5 147.2 L182.2 147.3 L183.0 147.4 L183.8 147.5 L184.5 147.5 L185.3 147.6 L186.1 147.7 L186.8 147.8 L187.6 147.9 L188.4 148.0 L189.1 148.0 L189.9 148.1 L190.7 148.2 L191.4 148.3 L192.2 148.4 L193.0 148.5 L193.7 148.5 L194.5 148.6 L195.3 148.7 L196.0 148.8 L196.8 148.9 L197.6 148.9 L198.3 149.0 L199.1 149.1 L199.8 149.2 L200.6 149.2 L201.4 149.3 L202.1 149.4 L202.9 149.5 L203.6 149.5 L204.4 149.6 L205.2 149.7 L205.9 149.8 L206.7 149.8 L207.5 149.9 L208.2 150.0 L209.0 150.0 L209.7 150.1 L210.5 150.2 L211.3 150.3 L212.0 150.3 L212.8 150.4 L213.5 150.5 L214.3 150.5 L215.0 150.6 L215.8 150.7 L216.6 150.7 L217.3 150.8 L218.1 150.9 L218.8 150.9 L219.6 151.0 L220.3 151.1 L221.1 151.1 L221.9 151.2 L222.6 151.3 L223.4 151.3 L224.1 151.4 L224.9 151.5 L225.6 151.5 L226.4 151.6 L227.2 151.6 L227.9 151.7 L228.7 151.8 L229.4 151.8 L230.2 151.9 L230.9 151.9 L231.7 152.0 L232.4 152.1 L233.2 152.1 L234.0 152.2 L234.7 152.2 L235.5 152.3 L236.2 152.3 L237.0 152.4 L237.7 152.5 L238.5 152.5 L239.2 152.6 L240.0 152.6 L240.8 152.7 L241.5 152.7 L242.3 152.8 L243.0 152.8 L243.8 152.9 L244.5 152.9 L245.3 153.0 L246.0 153.0 L246.8 153.1 L247.5 153.1 L248.3 153.2 L249.1 153.2 L249.8 153.3 L250.6 153.3 L251.3 153.4 L252.1 153.4 L252.8 153.5 L253.6 153.5 L254.3 153.6 L255.1 153.6 L255.9 153.6 L256.6 153.7 L257.4 153.7 L258.1 153.8 L258.9 153.8 L259.6 153.9 L260.4 153.9 L261.1 153.9 L261.9 154.0 L262.6 154.0 L263.4 154.1 L264.2 154.1 L264.9 154.1 L265.7 154.2 L266.4 154.2 L267.2 154.3 L267.9 154.3 L268.7 154.3 L269.4 154.4 L270.2 154.4 L271.0 154.4 L271.7 154.5 L272.5 154.5 L273.2 154.5 L274.0 154.6 L274.7 154.6 L275.5 154.6 L276.3 154.7 L277.0 154.7 L277.8 154.7 L278.5 154.8 L279.3 154.8 L280.0 154.8 L280.8 154.8 L281.6 154.9 L282.3 154.9 L283.1 154.9 L283.8 155.0 L284.6 155.0 L285.4 155.0 L286.1 155.0 L286.9 155.1 L287.6 155.1 L288.4 155.1 L289.1 155.1 L289.9 155.2 L290.7 155.2 L291.4 155.2 L292.2 155.2 L293.0 155.2 L293.7 155.3 L294.5 155.3 L295.2 155.3 L296.0 155.3 L296.8 155.3 L297.5 155.4 L298.3 155.4 L299.0 155.4 L299.8 155.4 L300.6 155.4 L301.3 155.4 L302.1 155.5 L302.9 155.5 L303.6 155.5 L304.4 155.5 L305.2 155.5 L305.9 155.5 L306.7 155.5 L307.5 155.5 L308.2 155.6 L309.0 155.6 L309.7 155.6 L310.5 155.6 L311.3 155.6 L312.1 155.6 L312.8 155.6 L313.6 155.6 L314.4 155.6 L315.1 155.6 L315.9 155.6 L316.7 155.6 L317.4 155.7 L318.2 155.7 L319.0 155.7 L319.7 155.7 L320.5 155.7 L321.3 155.7 L322.1 155.7 L322.8 155.7 L323.6 155.7" stroke="#0000ff" stroke-width="1.7" fill="none" stroke-linejoin="round"/>
<path d="M393.8 65.3 L394.6 66.9 L395.5 68.5 L396.3 70.1 L397.2 71.8 L398.0 73.5 L398.9 75.2 L399.7 77.0 L400.6 78.7 L401.4 80.5 L402.2 82.3 L403.1 84.1 L403.9 85.9 L404.8 87.7 L405.6 89.6 L406.5 91.4 L407.3 93.2 L408.1 95.1 L409.0 96.9 L409.8 98.8 L410.7 100.6 L411.5 102.5 L412.4 104.3 L413.2 106.2 L414.1 108.0 L414.9 109.9 L415.7 111.7 L416.6 113.5 L417.4 115.3 L418.3 117.1 L419.1 118.9 L420.0 120.7 L420.8 122.5 L421.7 124.2 L422.5 125.9 L423.3 127.7 L424.2 129.4 L425.0 131.1 L425.9 132.7 L426.7 134.4 L427.6 136.0 L428.4 137.7 L429.2 139.3 L430.1 140.9 L430.9 142.4 L431.8 144.0 L432.6 145.5 L433.5 147.0 L434.3 148.5 L435.2 149.9 L436.0 151.4 L436.8 152.8 L437.7 154.2 L438.5 155.6 L439.4 156.9 L440.2 158.3 L441.1 159.6 L441.9 160.9 L442.8 162.1 L443.6 163.4 L444.4 164.6 L445.3 165.8 L446.1 166.9 L447.0 168.1 L447.8 169.2 L448.7 170.3 L449.5 171.4 L450.3 172.5 L451.2 173.5 L452.0 174.5 L452.9 175.5 L453.7 176.5 L454.6 177.4 L455.4 178.4 L456.3 179.3 L457.1 180.2 L457.9 181.0 L458.8 181.9 L459.6 182.7 L460.5 183.5 L461.3 184.3 L462.2 185.1 L463.0 185.8 L463.9 186.5 L464.7 187.3 L465.5 188.0 L466.4 188.6 L467.2 189.3 L468.1 189.9 L468.9 190.6 L469.8 191.2 L470.6 191.8 L471.5 192.3 L472.3 192.9 L473.1 193.5 L474.0 194.0 L474.8 194.5 L475.7 195.0 L476.5 195.5 L477.4 196.0 L478.2 196.5 L479.0 196.9 L479.9 197.4 L480.7 197.8 L481.6 198.2 L482.4 198.6 L483.3 199.0 L484.1 199.4 L485.0 199.8 L485.8 200.2 L486.6 200.5 L487.5 200.9 L488.3 201.2 L489.2 201.6 L490.0 201.9 L490.9 202.2 L491.7 202.5 L492.6 202.8 L493.4 203.1 L494.2 203.4 L495.1 203.7 L495.9 204.0 L496.8 204.3 L497.6 204.5 L498.5 204.8 L499.3 205.0 L500.1 205.3 L501.0 205.5 L501.8 205.8 L502.7 206.0 L503.5 206.2 L504.4 206.5 L505.2 206.7 L506.1 206.9 L506.9 207.1 L507.7 207.3 L508.6 207.5 L509.4 207.7 L510.3 207.9 L511.1 208.1 L512.0 208.3 L512.8 208.4 L513.7 208.6 L514.5 208.8 L515.3 208.9 L516.2 209.1 L517.0 209.2 L517.9 209.3 L518.7 209.5 L519.6 209.6 L520.4 209.7 L521.2 209.8 L522.1 209.9 L522.9 210.0 L523.8 210.0 L524.6 210.1 L525.5 210.1 L526.3 210.2 L527.2 210.2 L528.0 210.2 L530.0 210.2" stroke="#000" stroke-width="1.7" fill="none" stroke-linejoin="round"/>
<path d="M392.9 65.3 L393.7 66.9 L394.6 68.5 L395.4 70.1 L396.3 71.8 L397.1 73.5 L398.0 75.2 L398.8 77.0 L399.7 78.7 L400.5 80.5 L401.3 82.3 L402.2 84.1 L403.0 85.9 L403.9 87.7 L404.7 89.6 L405.6 91.4 L406.4 93.2 L407.2 95.1 L408.1 96.9 L408.9 98.8 L409.8 100.6 L410.6 102.5 L411.5 104.3 L412.3 106.2 L413.2 108.0 L414.0 109.9 L414.8 111.7 L415.7 113.5 L416.5 115.3 L417.4 117.1 L418.2 118.9 L419.1 120.7 L419.9 122.5 L420.8 124.2 L421.6 125.9 L422.4 127.7 L423.3 129.4 L424.1 131.1 L425.0 132.7 L425.8 134.4 L426.7 136.0 L427.5 137.7 L428.3 139.3 L429.2 140.9 L430.0 142.4 L430.9 144.0 L431.7 145.5 L432.6 147.0 L433.4 148.5 L434.3 149.9 L435.1 151.4 L435.9 152.8 L436.8 154.2 L437.6 155.6 L438.5 156.9 L439.3 158.3 L440.2 159.6 L441.0 160.9 L441.9 162.1 L442.7 163.4" stroke="#000" stroke-width="1.7" fill="none" stroke-linejoin="round" stroke-dasharray="7.2 6.9"/>
<path d="M393.5 22.8 L394.9 23.1 L396.3 23.5 L397.7 23.9 L399.1 24.4 L400.6 24.9 L402.0 25.4 L403.4 26.0 L404.8 26.7 L406.2 27.4 L407.6 28.1 L409.0 28.9 L410.4 29.8 L411.9 30.6 L413.3 31.6 L414.7 32.5 L416.1 33.5 L417.5 34.6 L418.9 35.6 L420.3 36.7 L421.7 37.9 L423.2 39.1 L424.6 40.3 L426.0 41.5 L427.4 42.8 L428.8 44.1 L430.2 45.4 L431.6 46.8 L433.0 48.2 L434.4 49.6 L435.9 51.0 L437.3 52.5 L438.7 54.0 L440.1 55.5 L441.5 57.0 L442.9 58.6 L444.3 60.2 L445.7 61.8 L447.2 63.4 L448.6 65.0 L450.0 66.6 L451.4 68.3 L452.8 70.0 L454.2 71.6 L455.6 73.3 L457.0 75.1 L458.4 76.8 L459.9 78.5 L461.3 80.3 L462.7 82.0 L464.1 83.8 L465.5 85.5 L466.9 87.3 L468.3 89.1 L469.7 90.9 L471.2 92.7 L472.6 94.5 L474.0 96.3 L475.4 98.1 L476.8 99.9 L478.2 101.7 L479.6 103.5 L481.0 105.3 L482.5 107.1 L483.9 108.9 L485.3 110.7 L486.7 112.5 L488.1 114.3 L489.5 116.1 L490.9 117.9 L492.3 119.7 L493.7 121.4 L495.2 123.2 L496.6 125.0 L498.0 126.7 L499.4 128.5 L500.8 130.2 L502.2 131.9 L503.6 133.7 L505.0 135.4 L506.5 137.1 L507.9 138.8 L509.3 140.4 L510.7 142.1 L512.1 143.8 L513.5 145.4 L514.9 147.0 L516.3 148.6 L517.8 150.2 L519.2 151.8 L520.6 153.4 L522.0 154.9 L523.4 156.5 L524.8 158.0 L526.2 159.5 L527.6 161.0 L529.0 162.5 L530.5 163.9 L531.9 165.3 L533.3 166.8 L534.7 168.2 L536.1 169.5 L537.5 170.9 L538.9 172.2 L540.3 173.6 L541.8 174.9 L543.2 176.1 L544.6 177.4 L546.0 178.6 L547.4 179.8 L548.8 181.0 L550.2 182.2 L551.6 183.3 L553.1 184.5 L554.5 185.6 L555.9 186.7 L557.3 187.7 L558.7 188.8 L560.1 189.8 L561.5 190.8 L562.9 191.7 L564.3 192.7 L565.8 193.6 L567.2 194.5 L568.6 195.3 L570.0 196.2 L571.4 197.0 L572.8 197.8 L574.2 198.6 L575.6 199.3 L577.1 200.0 L578.5 200.7 L579.9 201.4 L581.3 202.1 L582.7 202.7 L584.1 203.3 L585.5 203.9 L586.9 204.4 L588.3 204.9 L589.8 205.4 L591.2 205.9 L592.6 206.3 L594.0 206.8 L595.4 207.2 L596.8 207.5 L598.2 207.9 L599.6 208.2 L601.1 208.5 L602.5 208.8 L603.9 209.0 L605.3 209.3 L606.7 209.5 L608.1 209.6 L609.5 209.8 L610.9 209.9 L612.4 210.0 L613.8 210.1 L615.2 210.2 L616.6 210.2 L618.0 210.2 L660.0 210.2" stroke="#ff0000" stroke-width="1.7" fill="none" stroke-linejoin="round"/>
<path d="M393.5 21.9 L394.9 22.2 L396.3 22.6 L397.7 23.0 L399.1 23.5 L400.6 24.0 L402.0 24.5 L403.4 25.1 L404.8 25.8 L406.2 26.5 L407.6 27.2 L409.0 28.0 L410.4 28.9 L411.9 29.7 L413.3 30.7 L414.7 31.6 L416.1 32.6 L417.5 33.7 L418.9 34.7 L420.3 35.8 L421.7 37.0 L423.2 38.2 L424.6 39.4 L426.0 40.6 L427.4 41.9 L428.8 43.2 L430.2 44.5 L431.6 45.9 L433.0 47.3 L434.4 48.7 L435.9 50.1 L437.3 51.6 L438.7 53.1 L440.1 54.6 L441.5 56.1 L442.9 57.7 L444.3 59.3 L445.7 60.9 L447.2 62.5 L448.6 64.1 L450.0 65.7 L451.4 67.4 L452.8 69.1 L454.2 70.7 L455.6 72.4 L457.0 74.2 L458.4 75.9 L459.9 77.6 L461.3 79.4 L462.7 81.1 L464.1 82.9 L465.5 84.6 L466.9 86.4 L468.3 88.2 L469.7 90.0 L471.2 91.8 L472.6 93.6 L474.0 95.4 L475.4 97.2 L476.8 99.0 L478.2 100.8 L479.6 102.6 L481.0 104.4 L482.5 106.2 L483.9 108.0 L485.3 109.8 L486.7 111.6 L488.1 113.4 L489.5 115.2 L490.9 117.0" stroke="#ff0000" stroke-width="1.7" fill="none" stroke-linejoin="round" stroke-dasharray="7.2 6.9"/>
<path d="M393.5 50.9 L394.7 51.5 L395.9 52.2 L397.1 52.9 L398.3 53.7 L399.5 54.5 L400.7 55.4 L402.0 56.4 L403.2 57.4 L404.4 58.5 L405.6 59.6 L406.8 60.8 L408.0 62.0 L409.2 63.2 L410.4 64.5 L411.6 65.8 L412.8 67.2 L414.0 68.6 L415.2 70.0 L416.4 71.4 L417.7 72.9 L418.9 74.4 L420.1 75.9 L421.3 77.5 L422.5 79.0 L423.7 80.6 L424.9 82.2 L426.1 83.8 L427.3 85.4 L428.5 87.0 L429.7 88.7 L430.9 90.3 L432.1 92.0 L433.3 93.6 L434.6 95.3 L435.8 97.0 L437.0 98.6 L438.2 100.3 L439.4 102.0 L440.6 103.6 L441.8 105.3 L443.0 107.0 L444.2 108.6 L445.4 110.3 L446.6 111.9 L447.8 113.6 L449.0 115.2 L450.3 116.8 L451.5 118.4 L452.7 120.0 L453.9 121.6 L455.1 123.2 L456.3 124.8 L457.5 126.3 L458.7 127.9 L459.9 129.4 L461.1 131.0 L462.3 132.5 L463.5 134.0 L464.7 135.4 L466.0 136.9 L467.2 138.3 L468.4 139.8 L469.6 141.2 L470.8 142.6 L472.0 144.0 L473.2 145.4 L474.4 146.7 L475.6 148.0 L476.8 149.4 L478.0 150.7 L479.2 152.0 L480.4 153.2 L481.7 154.5 L482.9 155.7 L484.1 156.9 L485.3 158.1 L486.5 159.3 L487.7 160.5 L488.9 161.6 L490.1 162.8 L491.3 163.9 L492.5 165.0 L493.7 166.1 L494.9 167.2 L496.1 168.2 L497.3 169.2 L498.6 170.3 L499.8 171.3 L501.0 172.3 L502.2 173.2 L503.4 174.2 L504.6 175.1 L505.8 176.1 L507.0 177.0 L508.2 177.9 L509.4 178.8 L510.6 179.7 L511.8 180.5 L513.0 181.4 L514.3 182.2 L515.5 183.0 L516.7 183.8 L517.9 184.6 L519.1 185.4 L520.3 186.2 L521.5 186.9 L522.7 187.7 L523.9 188.4 L525.1 189.1 L526.3 189.9 L527.5 190.6 L528.7 191.2 L530.0 191.9 L531.2 192.6 L532.4 193.3 L533.6 193.9 L534.8 194.5 L536.0 195.2 L537.2 195.8 L538.4 196.4 L539.6 197.0 L540.8 197.6 L542.0 198.1 L543.2 198.7 L544.4 199.2 L545.7 199.8 L546.9 200.3 L548.1 200.8 L549.3 201.4 L550.5 201.9 L551.7 202.3 L552.9 202.8 L554.1 203.3 L555.3 203.7 L556.5 204.2 L557.7 204.6 L558.9 205.0 L560.1 205.5 L561.3 205.8 L562.6 206.2 L563.8 206.6 L565.0 206.9 L566.2 207.3 L567.4 207.6 L568.6 207.9 L569.8 208.2 L571.0 208.5 L572.2 208.7 L573.4 209.0 L574.6 209.2 L575.8 209.4 L577.0 209.6 L578.3 209.7 L579.5 209.9 L580.7 210.0 L581.9 210.1 L583.1 210.1 L584.3 210.2 L585.5 210.2 L660.0 210.2" stroke="#0000ff" stroke-width="1.7" fill="none" stroke-linejoin="round"/>
<text x="46.50" y="223.90" text-anchor="middle" class="tk">200</text>
<text x="83.43" y="223.90" text-anchor="middle" class="tk">400</text>
<text x="120.36" y="223.90" text-anchor="middle" class="tk">600</text>
<text x="157.29" y="223.90" text-anchor="middle" class="tk">800</text>
<text x="194.21" y="223.90" text-anchor="middle" class="tk">1000</text>
<text x="231.14" y="223.90" text-anchor="middle" class="tk">1200</text>
<text x="268.07" y="223.90" text-anchor="middle" class="tk">1400</text>
<text x="305.00" y="223.90" text-anchor="middle" class="tk">1600</text>
<text x="41.50" y="194.90" text-anchor="end" class="tk">2.0</text>
<text x="41.50" y="157.90" text-anchor="end" class="tk">2.2</text>
<text x="41.50" y="120.90" text-anchor="end" class="tk">2.4</text>
<text x="41.50" y="83.90" text-anchor="end" class="tk">2.6</text>
<text x="41.50" y="46.90" text-anchor="end" class="tk">2.8</text>
<text x="41.50" y="9.90" text-anchor="end" class="tk">3.0</text>
<text x="424.50" y="223.90" text-anchor="middle" class="tk">300</text>
<text x="483.38" y="223.90" text-anchor="middle" class="tk">400</text>
<text x="542.25" y="223.90" text-anchor="middle" class="tk">500</text>
<text x="601.12" y="223.90" text-anchor="middle" class="tk">600</text>
<text x="660.00" y="223.90" text-anchor="middle" class="tk">700</text>
<text x="378.50" y="213.40" text-anchor="end" class="tk">0.0</text>
<text x="378.50" y="184.33" text-anchor="end" class="tk">0.2</text>
<text x="378.50" y="155.26" text-anchor="end" class="tk">0.4</text>
<text x="378.50" y="126.19" text-anchor="end" class="tk">0.6</text>
<text x="378.50" y="97.11" text-anchor="end" class="tk">0.8</text>
<text x="378.50" y="68.04" text-anchor="end" class="tk">1.0</text>
<text x="378.50" y="38.97" text-anchor="end" class="tk">1.2</text>
<text x="378.50" y="9.90" text-anchor="end" class="tk">1.4</text>
<text x="184.50" y="243.70" text-anchor="middle" class="ti">wavelength (nm)</text>
<text x="522.00" y="243.70" text-anchor="middle" class="ti">wavelength (nm)</text>
<text transform="translate(9.8 116) rotate(-90)" text-anchor="middle" class="ti it" style="font-size:14px">n</text>
<text transform="translate(347 116) rotate(-90)" text-anchor="middle" class="ti it" style="font-size:14px">k</text>
<path d="M1.8 266.6H40.199999999999996" stroke="#ff0000" stroke-width="2" stroke-dasharray="9.3 9 9.3 30"/>
<path d="M1.8 291.7H40.4" stroke="#ff0000" stroke-width="2"/>
<text x="44.4" y="272.4" class="lg" transform="translate(44.4 0) scale(1.052 1) translate(-44.4 0)"><tspan dy="0">Ge</tspan><tspan class="sb" dy="5.6">20</tspan><tspan dy="-5.6">Sb</tspan><tspan class="sb" dy="5.6">5</tspan><tspan dy="-5.6">Se</tspan><tspan class="sb" dy="5.6">75</tspan><tspan dy="-5.6"> top</tspan></text>
<text x="44.4" y="297.4" class="lg" transform="translate(44.4 0) scale(1.052 1) translate(-44.4 0)"><tspan dy="0">Ge</tspan><tspan class="sb" dy="5.6">20</tspan><tspan dy="-5.6">Sb</tspan><tspan class="sb" dy="5.6">5</tspan><tspan dy="-5.6">Se</tspan><tspan class="sb" dy="5.6">75</tspan><tspan dy="-5.6"> bottom</tspan></text>
<path d="M225 266.6H263.4" stroke="#0000ff" stroke-width="2" stroke-dasharray="9.3 9 9.3 30"/>
<path d="M225 291.7H263.6" stroke="#0000ff" stroke-width="2"/>
<text x="267.5" y="272.4" class="lg" transform="translate(267.5 0) scale(1.052 1) translate(-267.5 0)"><tspan dy="0">Ge</tspan><tspan class="sb" dy="5.6">20</tspan><tspan dy="-5.6">Sb</tspan><tspan class="sb" dy="5.6">5</tspan><tspan dy="-5.6">S</tspan><tspan class="sb" dy="5.6">37.5</tspan><tspan dy="-5.6">Se</tspan><tspan class="sb" dy="5.6">37.5</tspan><tspan dy="-5.6"> top</tspan></text>
<text x="267.5" y="297.4" class="lg" transform="translate(267.5 0) scale(1.052 1) translate(-267.5 0)"><tspan dy="0">Ge</tspan><tspan class="sb" dy="5.6">20</tspan><tspan dy="-5.6">Sb</tspan><tspan class="sb" dy="5.6">5</tspan><tspan dy="-5.6">S</tspan><tspan class="sb" dy="5.6">37.5</tspan><tspan dy="-5.6">Se</tspan><tspan class="sb" dy="5.6">37.5</tspan><tspan dy="-5.6"> bottom</tspan></text>
<path d="M488.8 266.6H527.2" stroke="#000000" stroke-width="2" stroke-dasharray="9.3 9 9.3 30"/>
<path d="M488.8 291.7H527.4" stroke="#000000" stroke-width="2"/>
<text x="531.5" y="272.4" class="lg" transform="translate(531.5 0) scale(1.052 1) translate(-531.5 0)"><tspan dy="0">Ge</tspan><tspan class="sb" dy="5.6">20</tspan><tspan dy="-5.6">Sb</tspan><tspan class="sb" dy="5.6">5</tspan><tspan dy="-5.6">S</tspan><tspan class="sb" dy="5.6">75</tspan><tspan dy="-5.6"> top</tspan></text>
<text x="531.5" y="297.4" class="lg" transform="translate(531.5 0) scale(1.052 1) translate(-531.5 0)"><tspan dy="0">Ge</tspan><tspan class="sb" dy="5.6">20</tspan><tspan dy="-5.6">Sb</tspan><tspan class="sb" dy="5.6">5</tspan><tspan dy="-5.6">S</tspan><tspan class="sb" dy="5.6">75</tspan><tspan dy="-5.6"> bottom</tspan></text>
</svg>
</body></html>
